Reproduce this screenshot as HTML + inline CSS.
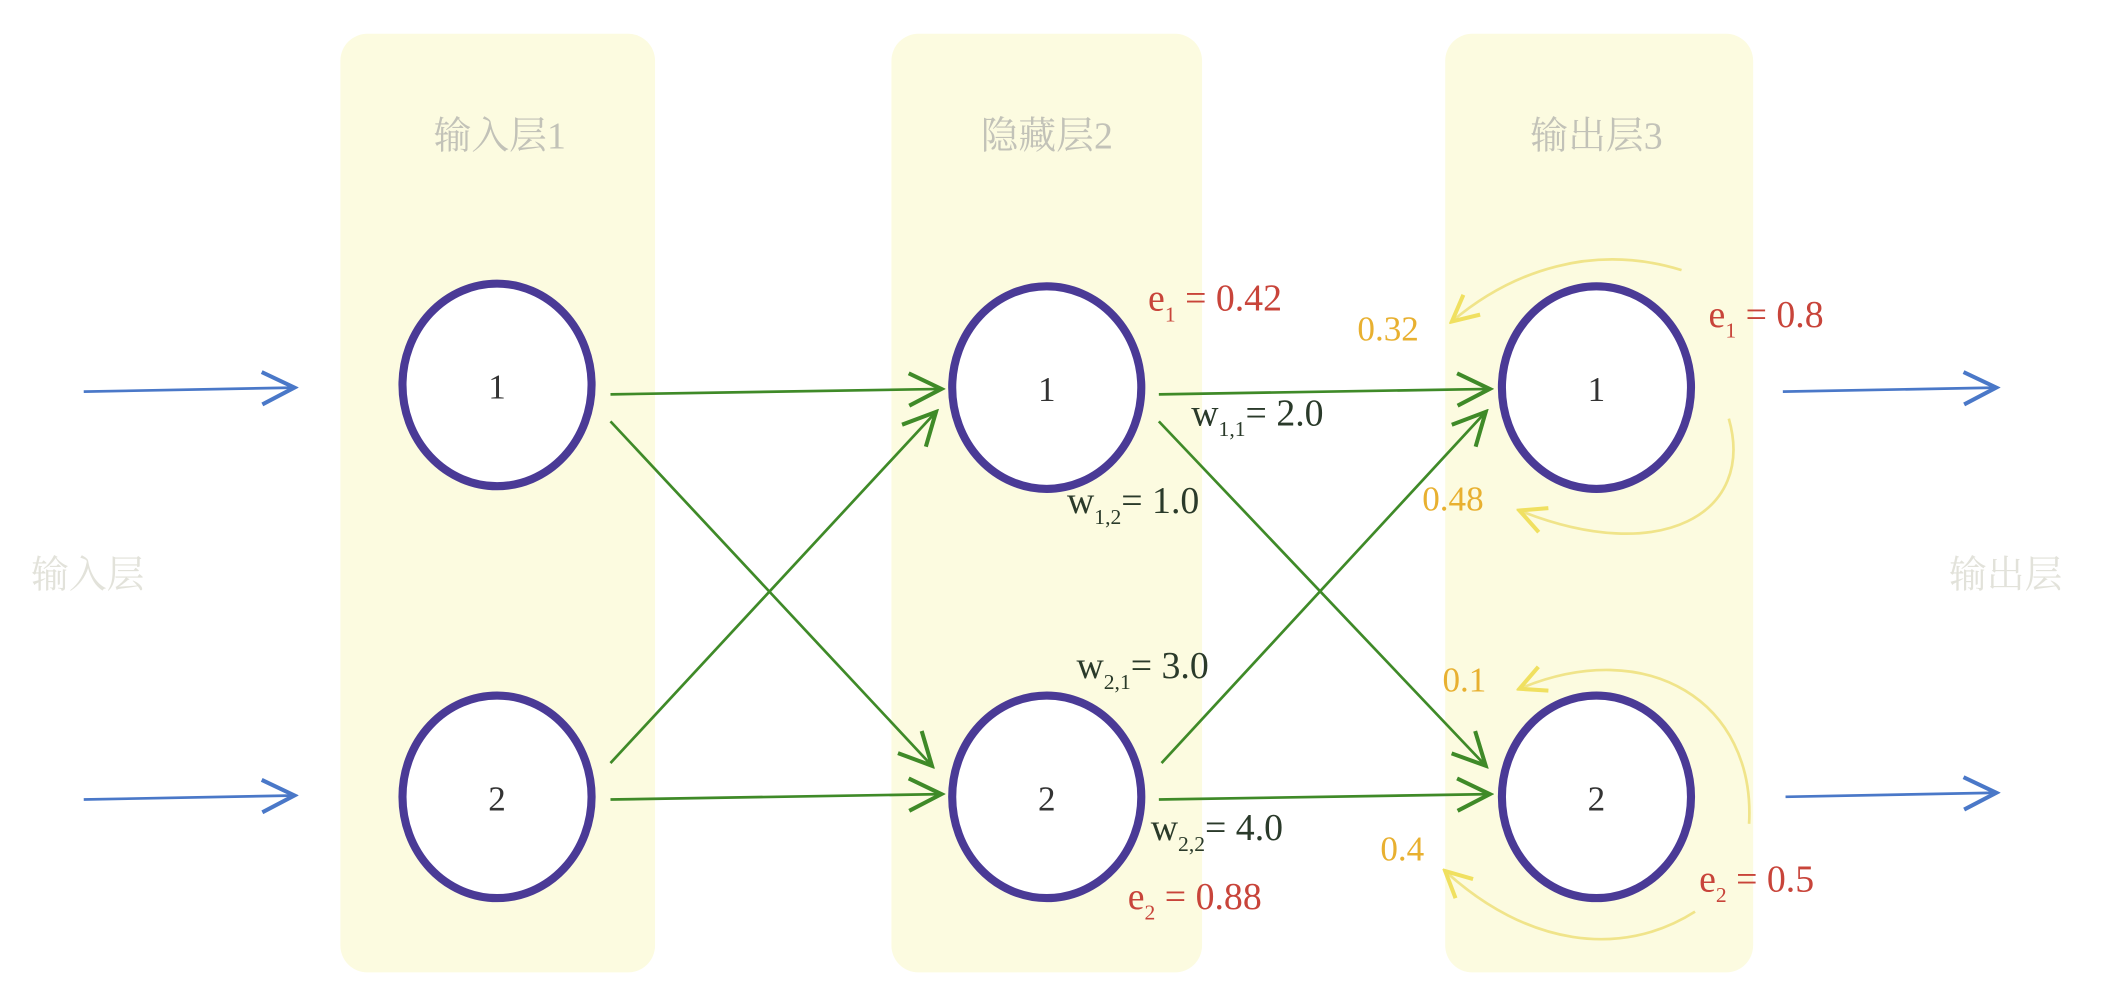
<!DOCTYPE html>
<html><head><meta charset="utf-8"><style>
html,body{margin:0;padding:0;background:#fff;}
svg{display:block;}
text{font-family:"Liberation Serif","Noto Serif CJK SC",serif;}
</style></head><body>
<svg width="2107" height="994" viewBox="0 0 1560 736" preserveAspectRatio="none" xmlns="http://www.w3.org/2000/svg">
<defs>
<marker id="ag" viewBox="0 0 20 20" refX="18" refY="10" markerWidth="30" markerHeight="30" markerUnits="userSpaceOnUse" orient="auto"><path d="M2,2 L18,10 L2,18" fill="none" stroke="#3f8a28" stroke-width="2"/></marker>
<marker id="ab" viewBox="0 0 20 20" refX="18" refY="10" markerWidth="30" markerHeight="30" markerUnits="userSpaceOnUse" orient="auto"><path d="M2,2 L18,10 L2,18" fill="none" stroke="#4a78c8" stroke-width="2"/></marker>
<marker id="ay" viewBox="0 0 20 20" refX="18" refY="10" markerWidth="24" markerHeight="24" markerUnits="userSpaceOnUse" orient="auto"><path d="M2,2 L18,10 L2,18" fill="none" stroke="#f0e060" stroke-width="2.5"/></marker>
</defs>
<rect x="0" y="0" width="1560" height="736" fill="#fff"/>
<g fill="#fcfbe0">
<rect x="252" y="25" width="233" height="695" rx="20"/>
<rect x="660" y="25" width="230" height="695" rx="20"/>
<rect x="1070" y="25" width="228" height="695" rx="20"/>
</g>
<g font-size="28" fill="#c2c2b8" text-anchor="middle">
<text x="370" y="110">输入层1</text>
<text x="775" y="110">隐藏层2</text>
<text x="1182" y="110">输出层3</text>
<text x="65" y="435" fill="#e2e2da">输入层</text>
<text x="1485" y="435" fill="#e2e2da">输出层</text>
</g>
<g stroke="#4a78c8" stroke-width="2" fill="none">
<line x1="62" y1="290" x2="218" y2="287" marker-end="url(#ab)"/>
<line x1="62" y1="592" x2="218" y2="589" marker-end="url(#ab)"/>
<line x1="1320" y1="290" x2="1478" y2="287" marker-end="url(#ab)"/>
<line x1="1322" y1="590" x2="1478" y2="587" marker-end="url(#ab)"/>
</g>
<g stroke="#3f8a28" stroke-width="2" fill="none">
<line x1="452" y1="292" x2="697" y2="288" marker-end="url(#ag)"/>
<line x1="452" y1="312" x2="690" y2="567" marker-end="url(#ag)"/>
<line x1="452" y1="565" x2="693" y2="305" marker-end="url(#ag)"/>
<line x1="452" y1="592" x2="697" y2="588" marker-end="url(#ag)"/>
<line x1="858" y1="292" x2="1103" y2="288" marker-end="url(#ag)"/>
<line x1="858" y1="312" x2="1100" y2="567" marker-end="url(#ag)"/>
<line x1="860" y1="565" x2="1100" y2="305" marker-end="url(#ag)"/>
<line x1="858" y1="592" x2="1103" y2="588" marker-end="url(#ag)"/>
</g>
<g stroke="#f0e48a" stroke-width="2" fill="none">
<path d="M1245,200 C1180,180 1120,200 1075,238" marker-end="url(#ay)"/>
<path d="M1280,310 C1300,380 1230,420 1125,378" marker-end="url(#ay)"/>
<path d="M1295,610 C1300,520 1220,470 1125,510" marker-end="url(#ay)"/>
<path d="M1255,675 C1200,710 1130,700 1070,645" marker-end="url(#ay)"/>
</g>
<g stroke="#4a3a96" stroke-width="6" fill="#fff">
<ellipse cx="368" cy="285" rx="70" ry="75"/>
<ellipse cx="368" cy="590" rx="70" ry="75"/>
<ellipse cx="775" cy="287" rx="70" ry="75"/>
<ellipse cx="775" cy="590" rx="70" ry="75"/>
<ellipse cx="1182" cy="287" rx="70" ry="75"/>
<ellipse cx="1182" cy="590" rx="70" ry="75"/>
</g>
<g font-size="26" fill="#333" text-anchor="middle">
<text x="368" y="295">1</text>
<text x="368" y="600">2</text>
<text x="775" y="297">1</text>
<text x="775" y="600">2</text>
<text x="1182" y="297">1</text>
<text x="1182" y="600">2</text>
</g>
<g font-size="28" fill="#2a3a2a">
<text x="882" y="315">w<tspan font-size="16" dy="8">1,1</tspan><tspan dy="-8">= 2.0</tspan></text>
<text x="790" y="380">w<tspan font-size="16" dy="8">1,2</tspan><tspan dy="-8">= 1.0</tspan></text>
<text x="797" y="502">w<tspan font-size="16" dy="8">2,1</tspan><tspan dy="-8">= 3.0</tspan></text>
<text x="852" y="622">w<tspan font-size="16" dy="8">2,2</tspan><tspan dy="-8">= 4.0</tspan></text>
</g>
<g font-size="28" fill="#c8443a">
<text x="850" y="230">e<tspan font-size="16" dy="8">1</tspan><tspan dy="-8"> = 0.42</tspan></text>
<text x="835" y="673">e<tspan font-size="16" dy="8">2</tspan><tspan dy="-8"> = 0.88</tspan></text>
<text x="1265" y="242">e<tspan font-size="16" dy="8">1</tspan><tspan dy="-8"> = 0.8</tspan></text>
<text x="1258" y="660">e<tspan font-size="16" dy="8">2</tspan><tspan dy="-8"> = 0.5</tspan></text>
</g>
<g font-size="26" fill="#e8b030">
<text x="1005" y="252">0.32</text>
<text x="1053" y="378">0.48</text>
<text x="1068" y="512">0.1</text>
<text x="1022" y="637">0.4</text>
</g>
</svg>
</body></html>
